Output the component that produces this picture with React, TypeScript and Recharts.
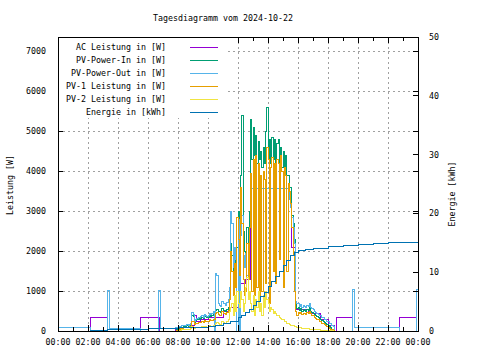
// Tagesdiagramm: PV-Leistung und Energie über einen Tag

import { LineChart, Line, XAxis, YAxis, CartesianGrid, ReferenceLine } from 'recharts';

const TITLE = 'Tagesdiagramm vom 2024-10-22';

const COLORS = {
  ac: '#9400d3',
  pvIn: '#009e73',
  pvOut: '#56b4e9',
  pv1: '#e69f00',
  pv2: '#f0e442',
  energy: '#0072b2',
};

const LEGEND = [
  { label: 'AC Leistung in [W]', color: COLORS.ac },
  { label: 'PV-Power-In in [W]', color: COLORS.pvIn },
  { label: 'PV-Power-Out in [W]', color: COLORS.pvOut },
  { label: 'PV-1 Leistung in [W]', color: COLORS.pv1 },
  { label: 'PV-2 Leistung in [W]', color: COLORS.pv2 },
  { label: 'Energie in [kWh]', color: COLORS.energy },
];

// x axis in minutes since midnight
const hourTicks = [0, 120, 240, 360, 480, 600, 720, 840, 960, 1080, 1200, 1320, 1440];
const minorTicks = [60, 180, 300, 420, 540, 660, 780, 900, 1020, 1140, 1260, 1380];
const powerTicks = [0, 1000, 2000, 3000, 4000, 5000, 6000, 7000];
const energyTicks = [0, 10, 20, 30, 40, 50];
const POWER_MAX = 7350;

// daytime samples: every 5 min from 07:30 to 18:30
const DAY_START = 450;
const DAY_STEP = 5;

const pvInDay = [
  0, 0, 0, 0, 0, 30, 60, 80, 90, 100, 120, 110,
  120, 130, 120, 140, 150, 400, 360, 220, 270, 290, 310, 300,
  320, 340, 310, 370, 360, 340, 350, 400, 370, 390, 420, 400,
  520, 540, 500, 480, 470, 560, 520, 510, 490, 540, 600, 900,
  2200, 1900, 1500, 1800, 1600, 2100, 3000, 2400, 3900, 5400, 2500, 2000,
  1800, 2600, 2200, 3000, 5300, 4300, 5100, 4400, 4900, 4200, 4750, 4300,
  4500, 4100, 4600, 4200, 5000, 5600, 4300, 4800, 4200, 4850, 4300, 4800,
  4200, 4700, 4800, 4200, 4600, 4100, 4500, 4000, 4400, 3900, 3900, 3600,
  3600, 2900, 2700, 2300, 700, 560, 600, 520, 560, 500, 540, 520,
  500, 550, 520, 580, 500, 470, 450, 420, 390, 360, 340, 310,
  290, 260, 240, 210, 190, 160, 140, 110, 80, 50, 20, 0,
  0,
];

const pvOutDay = [
  70, 70, 70, 70, 80, 100, 110, 120, 110, 130, 150, 140,
  150, 160, 140, 170, 180, 460, 420, 250, 300, 320, 350, 330,
  360, 380, 340, 420, 400, 370, 390, 450, 410, 430, 480, 0,
  1450, 1400, 700, 650, 620, 750, 700, 680, 640, 720, 780, 1100,
  2980, 2700, 1600, 2100, 1800, 0, 2800, 0, 2400, 2900, 1900, 1600,
  1950, 1400, 1800, 2600, 3575, 3575, 3575, 3575, 3575, 3575, 3575, 3575,
  3575, 3575, 3575, 3575, 3575, 3575, 3575, 3575, 3575, 3575, 3575, 3575,
  3575, 3575, 3575, 3575, 3575, 3575, 3575, 3575, 3575, 3575, 3575, 3300,
  3100, 2850, 2600, 2200, 750, 680, 700, 620, 660, 600, 640, 620,
  600, 650, 620, 680, 600, 560, 540, 500, 470, 440, 410, 380,
  380, 350, 330, 300, 280, 250, 230, 200, 180, 150, 120, 0,
  0,
];

const pv1Day = [
  0, 0, 0, 0, 0, 10, 30, 50, 60, 70, 90, 80,
  90, 100, 90, 110, 120, 250, 230, 170, 190, 200, 220, 210,
  220, 240, 210, 260, 250, 230, 240, 280, 260, 270, 300, 290,
  450, 470, 420, 400, 390, 480, 440, 430, 410, 460, 520, 800,
  2000, 1500, 900, 1700, 1100, 2850, 2300, 1400, 3600, 2700, 1300, 900,
  1000, 2200, 1300, 2600, 3950, 1000, 4300, 900, 4400, 1100, 4200, 800,
  3900, 1000, 4000, 3800, 1200, 4600, 4300, 700, 4100, 4350, 1500, 4200,
  1200, 4300, 4200, 1800, 4400, 4000, 1100, 4100, 3900, 1500, 3700, 3500,
  3200, 2600, 1900, 1000, 480, 400, 470, 430, 460, 410, 450, 430,
  420, 470, 440, 500, 430, 400, 380, 350, 320, 300, 280, 250,
  230, 200, 180, 160, 140, 110, 90, 70, 50, 30, 10, 0,
  0,
];

const pv2Day = [
  0, 0, 0, 0, 0, 0, 10, 20, 20, 30, 40, 35,
  40, 45, 40, 50, 55, 120, 100, 70, 80, 90, 95, 90,
  100, 110, 90, 120, 115, 100, 110, 130, 120, 125, 140, 130,
  200, 220, 180, 170, 160, 240, 210, 200, 190, 230, 300, 500,
  600, 700, 400, 900, 500, 1000, 700, 600, 1000, 800, 500, 700,
  1100, 1350, 800, 1000, 700, 500, 900, 400, 800, 600, 1000, 500,
  700, 400, 900, 600, 1000, 800, 700, 500, 600, 550, 450, 500,
  450, 400, 380, 350, 320, 300, 280, 250, 230, 200, 180, 160,
  150, 130, 130, 120, 110, 100, 90, 80, 80, 75, 70, 65,
  60, 55, 55, 50, 50, 45, 40, 40, 35, 35, 30, 30,
  25, 25, 20, 20, 15, 15, 10, 10, 5, 5, 0, 0,
  0,
];

// night parts: [minute, value]
const pvOutBefore: [number, number][] = [
  [0, 80], [128, 0], [196, 1025], [204, 70], [328, 0], [402, 1025], [410, 70],
];
const pvOutAfter: [number, number][] = [
  [1178, 1050], [1186, 80], [1364, 0], [1432, 1050], [1440, 1050],
];

const acPoints: [number, number][] = [
  [0, 0], [128, 350], [196, 0], [328, 350], [404, 0], [470, 60], [500, 100],
  [525, 150], [545, 380], [555, 230], [570, 280], [600, 330], [630, 330],
  [660, 480], [690, 600], [720, 1200], [750, 1300], [770, 3575], [925, 3300],
  [935, 2100], [950, 550], [1000, 450], [1050, 300], [1080, 150], [1105, 0],
  [1112, 340], [1179, 0], [1364, 340], [1432, 0], [1440, 0],
];

const energyPoints: [number, number][] = [
  [0, 0], [128, 0.05], [160, 0.15], [196, 0.25], [328, 0.3], [360, 0.4],
  [404, 0.5], [480, 0.55], [540, 0.65], [600, 0.85], [630, 1.0], [660, 1.3],
  [690, 1.7], [720, 2.3], [735, 2.7], [750, 3.2], [765, 3.7], [780, 4.3],
  [795, 5.0], [810, 5.8], [825, 6.6], [840, 7.5], [855, 8.4], [870, 9.3],
  [885, 10.2], [900, 11.1], [915, 12.0], [930, 12.8], [945, 13.4], [960, 13.7],
  [990, 13.9], [1020, 14.1], [1080, 14.4], [1140, 14.6], [1200, 14.7],
  [1260, 14.9], [1320, 15.0], [1380, 15.1], [1440, 15.2],
];

const pairs = (list: [number, number][]) => list.map(([t, v]) => ({ t, v }));
const day = (values: number[]) => values.map((v, i) => ({ t: DAY_START + i * DAY_STEP, v }));

const acData = pairs(acPoints);
const pvInData = [{ t: 0, v: 0 }, ...day(pvInDay), { t: 1440, v: 0 }];
const pvOutData = [...pairs(pvOutBefore), ...day(pvOutDay), ...pairs(pvOutAfter)];
const pv1Data = [{ t: 0, v: 0 }, ...day(pv1Day), { t: 1440, v: 0 }];
const pv2Data = [{ t: 0, v: 0 }, ...day(pv2Day), { t: 1440, v: 0 }];
const energyData = pairs(energyPoints);

const FONT = '"DejaVu Sans Mono", "Liberation Mono", monospace';
const FS = 8.3;
const tickStyle = { fontFamily: FONT, fontSize: FS, fill: '#000' };

const hhmm = (m: number) => `${String(Math.floor(m / 60) % 24).padStart(2, '0')}:00`;

const txt = { position: 'absolute' as const, fontFamily: FONT, fontSize: FS, color: '#000', whiteSpace: 'nowrap' as const, lineHeight: '10px' };

export default function App() {
  const series = [
    { data: acData, color: COLORS.ac, axis: 'left' },
    { data: pvInData, color: COLORS.pvIn, axis: 'left' },
    { data: pvOutData, color: COLORS.pvOut, axis: 'left' },
    { data: pv1Data, color: COLORS.pv1, axis: 'left' },
    { data: pv2Data, color: COLORS.pv2, axis: 'left' },
    { data: energyData, color: COLORS.energy, axis: 'right' },
  ];

  return (
    <div style={{ position: 'absolute', left: 0, top: 0, width: 480, height: 360, background: '#fff' }}>
      <LineChart width={480} height={360} margin={{ top: 37, right: 12, bottom: 9, left: 8 }}>
        <CartesianGrid yAxisId="left" stroke="#a0a0a0" strokeDasharray="2 3" shapeRendering="crispEdges" />
        <XAxis
          dataKey="t"
          type="number"
          domain={[0, 1440]}
          ticks={hourTicks}
          tickFormatter={hhmm}
          allowDataOverflow
          height={20}
          axisLine={false}
          tickLine={false}
          tickSize={0}
          tickMargin={8}
          tick={tickStyle}
          interval={0}
        />
        <YAxis
          yAxisId="left"
          type="number"
          domain={[0, POWER_MAX]}
          ticks={powerTicks}
          allowDataOverflow
          width={50}
          axisLine={false}
          tickLine={false}
          tickSize={0}
          tickMargin={12}
          tick={tickStyle}
          interval={0}
        />
        <YAxis
          yAxisId="right"
          orientation="right"
          type="number"
          domain={[0, 50]}
          ticks={energyTicks}
          allowDataOverflow
          width={50}
          axisLine={false}
          tickLine={false}
          tickSize={0}
          tickMargin={11}
          tick={tickStyle}
          interval={0}
        />
        {series.map((s, i) => (
          <Line
            key={i}
            data={s.data}
            dataKey="v"
            yAxisId={s.axis}
            type="stepAfter"
            stroke={s.color}
            strokeWidth={1}
            shapeRendering="crispEdges"
            dot={false}
            activeDot={false}
            isAnimationActive={false}
          />
        ))}
        {hourTicks.concat(minorTicks).map((t) => {
          const len = hourTicks.includes(t) ? 150 : 100;
          return [
            <ReferenceLine key={`b${t}`} yAxisId="left" segment={[{ x: t, y: 0 }, { x: t, y: len }]} stroke="#000" shapeRendering="crispEdges" />,
            <ReferenceLine key={`t${t}`} yAxisId="left" segment={[{ x: t, y: POWER_MAX }, { x: t, y: POWER_MAX - len }]} stroke="#000" shapeRendering="crispEdges" />,
          ];
        })}
        {powerTicks.map((v) => [
          <ReferenceLine key={`l${v}`} yAxisId="left" segment={[{ x: 0, y: v }, { x: 20, y: v }]} stroke="#000" shapeRendering="crispEdges" />,
          <ReferenceLine key={`r${v}`} yAxisId="left" segment={[{ x: 1420, y: v }, { x: 1440, y: v }]} stroke="#000" shapeRendering="crispEdges" />,
        ])}
        {energyTicks.map((v) => (
          <ReferenceLine key={`e${v}`} yAxisId="right" segment={[{ x: 1420, y: v }, { x: 1440, y: v }]} stroke="#000" shapeRendering="crispEdges" />
        ))}
      </LineChart>

      {/* legend box */}
      <div style={{ position: 'absolute', left: 59, top: 38, width: 166, height: 80, background: '#fff' }} />
      {LEGEND.map((item, i) => (
        <div key={item.label}>
          <div style={{ ...txt, left: 20, top: 42 + i * 13, width: 146, textAlign: 'right' }}>{item.label}</div>
          <div style={{ position: 'absolute', left: 190, top: 47 + i * 13, width: 28, height: 1, background: item.color }} />
        </div>
      ))}

      {/* plot border */}
      <div style={{ position: 'absolute', left: 58, top: 37, width: 361, height: 295, border: '1px solid #000', boxSizing: 'border-box' }} />

      <div style={{ ...txt, left: 0, width: 446, top: 13, textAlign: 'center' }}>{TITLE}</div>
      <div style={{ ...txt, left: 10, top: 185, transform: 'translate(-50%, -50%) rotate(-90deg)' }}>Leistung [W]</div>
      <div style={{ ...txt, left: 452, top: 194, transform: 'translate(-50%, -50%) rotate(-90deg)' }}>Energie [kWh]</div>
    </div>
  );
}
